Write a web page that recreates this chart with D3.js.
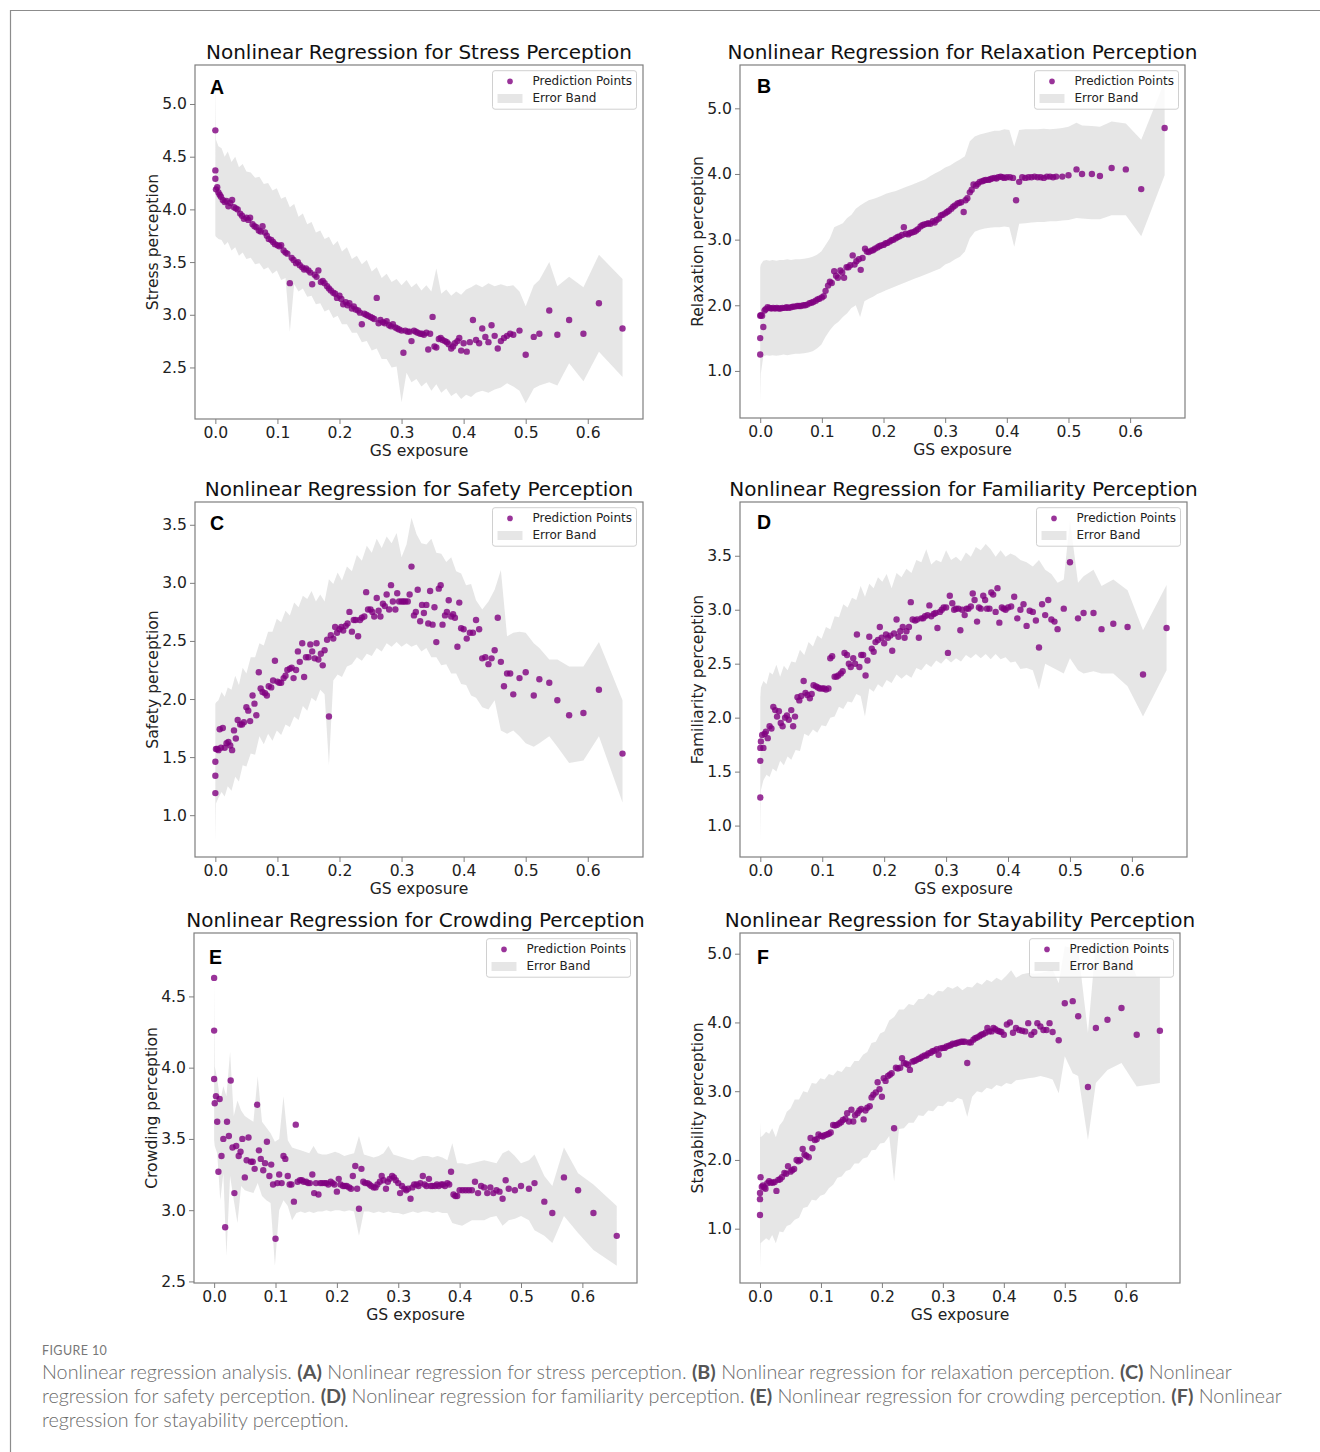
<!DOCTYPE html>
<html>
<head>
<meta charset="utf-8">
<script src="https://cdn.jsdelivr.net/npm/d3@7"></script>
<style>
  body { margin: 0; background: #fff; }
  text { white-space: pre; }
</style>
</head>
<body>
<svg id="fig" width="1320" height="1452"></svg>
<script>
// ---- data ----
// GS exposure of every prediction point (same samples in all six panels)
var gsExposure = [
  0, 0, 0, 0.001, 0.003, 0.005, 0.007, 0.009, 0.012, 0.015,
  0.018, 0.021, 0.024, 0.027, 0.030, 0.033, 0.036, 0.040, 0.043, 0.046,
  0.050, 0.053, 0.056, 0.060, 0.063, 0.066, 0.070, 0.073, 0.076, 0.080,
  0.083, 0.086, 0.090, 0.093, 0.096, 0.100, 0.103, 0.106, 0.110, 0.113,
  0.116, 0.120, 0.123, 0.126, 0.130, 0.133, 0.136, 0.140, 0.143, 0.146,
  0.150, 0.153, 0.156, 0.160, 0.163, 0.166, 0.170, 0.173, 0.176, 0.180,
  0.183, 0.186, 0.190, 0.193, 0.196, 0.200, 0.203, 0.206, 0.210, 0.213,
  0.216, 0.220, 0.223, 0.226, 0.230, 0.233, 0.236, 0.240, 0.243, 0.246,
  0.250, 0.253, 0.256, 0.260, 0.263, 0.266, 0.270, 0.273, 0.276, 0.280,
  0.283, 0.286, 0.290, 0.293, 0.296, 0.300, 0.303, 0.306, 0.310, 0.313,
  0.316, 0.320, 0.323, 0.326, 0.330, 0.333, 0.336, 0.340, 0.343, 0.346,
  0.350, 0.353, 0.356, 0.360, 0.363, 0.366, 0.370, 0.373, 0.376, 0.380,
  0.383, 0.386, 0.390, 0.393, 0.396, 0.400, 0.405, 0.410, 0.415, 0.420,
  0.425, 0.430, 0.435, 0.440, 0.445, 0.450, 0.455, 0.460, 0.465, 0.470,
  0.475, 0.480, 0.490, 0.500, 0.513, 0.522, 0.538, 0.551, 0.570, 0.593,
  0.618, 0.656];

// GS exposure where the error band edges are sampled
var bandGs = [
  0, 0.001, 0.005, 0.01, 0.015, 0.02, 0.026, 0.032, 0.038, 0.044,
  0.05, 0.057, 0.064, 0.071, 0.078, 0.085, 0.092, 0.099, 0.106, 0.113,
  0.12, 0.127, 0.134, 0.141, 0.148, 0.155, 0.162, 0.169, 0.176, 0.183,
  0.19, 0.197, 0.204, 0.212, 0.22, 0.228, 0.236, 0.244, 0.252, 0.26,
  0.268, 0.276, 0.284, 0.292, 0.3, 0.308, 0.316, 0.324, 0.332, 0.34,
  0.348, 0.356, 0.364, 0.372, 0.38, 0.388, 0.396, 0.404, 0.412, 0.42,
  0.43, 0.44, 0.45, 0.46, 0.47, 0.48, 0.49, 0.5, 0.513, 0.522,
  0.538, 0.551, 0.57, 0.593, 0.618, 0.656];

// A - stress
var stressPred = [
  4.75, 4.37, 4.29, 4.19, 4.21, 4.16, 4.14, 4.12, 4.09, 4.07,
  4.08, 4.03, 4.06, 4.09, 4.02, 4.01, 4.00, 3.96, 3.94, 3.91,
  3.92, 3.90, 3.92, 3.86, 3.84, 3.83, 3.80, 3.79, 3.84, 3.78,
  3.75, 3.72, 3.71, 3.69, 3.67, 3.66, 3.65, 3.66, 3.61, 3.59,
  3.58, 3.30, 3.54, 3.52, 3.49, 3.50, 3.47, 3.45, 3.43, 3.44,
  3.42, 3.40, 3.29, 3.38, 3.36, 3.42, 3.31, 3.32, 3.30, 3.27,
  3.25, 3.23, 3.21, 3.20, 3.16, 3.18, 3.15, 3.10, 3.12, 3.09,
  3.11, 3.06, 3.08, 3.05, 3.04, 3.02, 2.91, 3.01, 3.00, 2.99,
  2.98, 2.97, 2.96, 3.16, 2.92, 2.95, 2.93, 2.92, 2.94, 2.90,
  2.89, 2.91, 2.88, 2.87, 2.86, 2.85, 2.64, 2.85, 2.84, 2.84,
  2.75, 2.85, 2.84, 2.83, 2.82, 2.82, 2.81, 2.83, 2.67, 2.82,
  2.98, 2.70, 2.69, 2.77, 2.78, 2.76, 2.75, 2.74, 2.72, 2.68,
  2.70, 2.73, 2.75, 2.78, 2.66, 2.73, 2.65, 2.74, 2.95, 2.76,
  2.73, 2.87, 2.79, 2.74, 2.90, 2.80, 2.68, 2.75, 2.78, 2.80,
  2.82, 2.81, 2.85, 2.62, 2.79, 2.82, 3.04, 2.81, 2.95, 2.82,
  3.11, 2.87];
var stressHi = [
  5.22, 4.66, 4.60, 4.58, 4.50, 4.55, 4.45, 4.50, 4.40, 4.43,
  4.36, 4.35, 4.30, 4.31, 4.24, 4.25, 4.18, 4.20, 4.10, 4.12,
  4.02, 4.05, 3.93, 3.96, 3.86, 3.88, 3.78, 3.80, 3.72, 3.74,
  3.66, 3.70, 3.60, 3.64, 3.53, 3.56, 3.48, 3.52, 3.41, 3.45,
  3.35, 3.39, 3.31, 3.34, 3.28, 3.33, 3.26, 3.30, 3.23, 3.28,
  3.22, 3.44, 3.20, 3.24, 3.18, 3.22, 3.19, 3.24, 3.26, 3.29,
  3.26, 3.30, 3.27, 3.29, 3.27, 3.28, 3.22, 3.08, 3.28, 3.33,
  3.50, 3.27, 3.36, 3.26, 3.57, 3.34];
var stressLo = [
  3.75, 3.74, 3.72, 3.71, 3.66, 3.69, 3.61, 3.64, 3.56, 3.59,
  3.53, 3.54, 3.48, 3.49, 3.43, 3.45, 3.39, 3.42, 3.33, 3.35,
  2.84, 3.29, 3.22, 3.25, 3.17, 3.18, 3.10, 3.11, 3.03, 3.05,
  2.97, 2.99, 2.91, 2.91, 2.83, 2.83, 2.74, 2.75, 2.66, 2.68,
  2.58, 2.58, 2.50, 2.51, 2.17, 2.45, 2.36, 2.39, 2.32, 2.36,
  2.28, 2.34, 2.26, 2.30, 2.23, 2.26, 2.20, 2.24, 2.22, 2.26,
  2.28, 2.26, 2.29, 2.31, 2.35, 2.32, 2.28, 2.16, 2.30, 2.33,
  2.36, 2.33, 2.54, 2.37, 2.65, 2.41];

// B - relaxation
var relaxPred = [
  1.25, 1.50, 1.84, 1.85, 1.84, 1.67, 1.92, 1.94, 1.97, 1.96,
  1.95, 1.96, 1.95, 1.96, 1.95, 1.95, 1.96, 1.96, 1.97, 1.96,
  1.97, 1.98, 1.98, 1.99, 1.99, 1.99, 2.00, 2.00, 2.01, 2.03,
  2.04, 2.05, 2.07, 2.09, 2.10, 2.12, 2.14, 2.22, 2.30, 2.36,
  2.34, 2.52, 2.45, 2.42, 2.53, 2.50, 2.42, 2.58, 2.58, 2.61,
  2.76, 2.62, 2.67, 2.70, 2.54, 2.72, 2.86, 2.82, 2.81, 2.83,
  2.84, 2.86, 2.88, 2.90, 2.91, 2.92, 2.94, 2.95, 2.97, 2.99,
  3.00, 3.02, 3.04, 3.05, 3.07, 3.19, 3.09, 3.08, 3.10, 3.11,
  3.12, 3.14, 3.16, 3.20, 3.22, 3.23, 3.24, 3.25, 3.24, 3.28,
  3.26, 3.30, 3.32, 3.37, 3.38, 3.40, 3.42, 3.44, 3.47, 3.50,
  3.52, 3.55, 3.56, 3.57, 3.42, 3.60, 3.63, 3.72, 3.76, 3.84,
  3.82, 3.85, 3.88, 3.89, 3.90, 3.91, 3.91, 3.92, 3.93, 3.94,
  3.93, 3.95, 3.96, 3.95, 3.94, 3.95, 3.95, 3.94, 3.60, 3.88,
  3.95, 3.94, 3.95, 3.95, 3.96, 3.95, 3.95, 3.94, 3.96, 3.96,
  3.95, 3.96, 3.96, 3.98, 4.07, 4.00, 4.00, 3.97, 4.09, 4.07,
  3.77, 4.70];
var relaxHi = [
  2.58, 2.62, 2.68, 2.69, 2.68, 2.69, 2.68, 2.69, 2.69, 2.70,
  2.69, 2.70, 2.70, 2.71, 2.72, 2.74, 2.77, 2.82, 2.92, 3.02,
  3.19, 3.22, 3.25, 3.33, 3.38, 3.47, 3.52, 3.56, 3.60, 3.62,
  3.64, 3.67, 3.70, 3.72, 3.74, 3.77, 3.80, 3.83, 3.86, 3.89,
  3.92, 3.97, 4.01, 4.05, 4.10, 4.13, 4.18, 4.22, 4.27, 4.50,
  4.57, 4.60, 4.62, 4.64, 4.66, 4.66, 4.68, 4.67, 4.42, 4.67,
  4.68, 4.68, 4.68, 4.69, 4.68, 4.69, 4.70, 4.72, 4.78, 4.74,
  4.73, 4.72, 4.80, 4.77, 4.52, 5.41];
var relaxLo = [
  0.53, 0.96, 1.22, 1.24, 1.23, 1.24, 1.23, 1.24, 1.25, 1.24,
  1.25, 1.26, 1.26, 1.27, 1.28, 1.30, 1.34, 1.40, 1.52, 1.62,
  1.70, 1.75, 1.82, 1.88, 1.96, 2.00, 1.82, 2.06, 2.10, 2.13,
  2.17, 2.20, 2.23, 2.26, 2.29, 2.32, 2.35, 2.38, 2.41, 2.44,
  2.47, 2.50, 2.53, 2.56, 2.62, 2.65, 2.70, 2.74, 2.82, 3.02,
  3.12, 3.15, 3.17, 3.18, 3.19, 3.19, 3.20, 3.19, 2.89, 3.24,
  3.25, 3.26, 3.27, 3.27, 3.28, 3.28, 3.29, 3.30, 3.33, 3.32,
  3.31, 3.31, 3.37, 3.37, 3.05, 3.98];

// C - safety
var safetyPred = [
  1.19, 1.34, 1.46, 1.57, 1.57, 1.56, 1.74, 1.58, 1.75, 1.58,
  1.62, 1.63, 1.60, 1.56, 1.73, 1.66, 1.82, 1.78, 1.78, 1.80,
  1.93, 1.90, 1.81, 2.03, 1.96, 1.86, 2.23, 2.09, 2.06, 2.05,
  2.03, 2.11, 2.10, 2.16, 2.33, 2.15, 2.14, 2.14, 2.18, 2.20,
  2.25, 2.26, 2.27, 2.18, 2.25, 2.41, 2.32, 2.48, 2.19, 2.36,
  2.36, 2.47, 2.41, 2.35, 2.48, 2.34, 2.39, 2.29, 2.42, 2.51,
  1.85, 2.55, 2.52, 2.62, 2.57, 2.60, 2.62, 2.59, 2.63, 2.65,
  2.75, 2.58, 2.68, 2.68, 2.54, 2.68, 2.70, 2.71, 2.92, 2.77,
  2.77, 2.75, 2.71, 2.87, 2.76, 2.71, 2.82, 2.80, 2.90, 2.77,
  2.98, 2.84, 2.77, 2.91, 2.84, 2.84, 2.84, 2.84, 2.84, 2.90,
  3.14, 2.72, 2.75, 2.94, 2.67, 2.81, 2.74, 2.81, 2.65, 2.93,
  2.64, 2.79, 2.49, 2.95, 2.98, 2.64, 2.72, 2.75, 2.85, 2.71,
  2.73, 2.70, 2.45, 2.83, 2.61, 2.60, 2.52, 2.57, 2.57, 2.68,
  2.60, 2.35, 2.36, 2.30, 2.35, 2.42, 2.70, 2.32, 2.11, 2.22,
  2.22, 2.04, 2.18, 2.23, 2.03, 2.17, 2.14, 1.99, 1.86, 1.88,
  2.08, 1.53];
var safetyHi = [
  1.96, 1.97, 1.99, 2.06, 2.02, 2.10, 2.08, 2.20, 2.12, 2.27,
  2.22, 2.36, 2.36, 2.48, 2.46, 2.58, 2.58, 2.69, 2.66, 2.76,
  2.72, 2.83, 2.79, 2.89, 2.86, 2.93, 2.84, 2.90, 2.84, 3.03,
  2.99, 3.09, 3.02, 3.14, 3.10, 3.24, 3.19, 3.32, 3.26, 3.38,
  3.30, 3.40, 3.34, 3.43, 3.22, 3.33, 3.56, 3.42, 3.34, 3.33,
  3.38, 3.26, 3.25, 3.18, 3.22, 3.10, 3.08, 2.98, 2.99, 2.85,
  2.77, 2.84, 2.94, 3.11, 2.54, 2.57, 2.58, 2.57, 2.48, 2.44,
  2.34, 2.34, 2.28, 2.28, 2.49, 1.99];
var safetyLo = [
  0.77, 1.10, 1.15, 1.20, 1.16, 1.25, 1.21, 1.33, 1.29, 1.43,
  1.42, 1.53, 1.52, 1.68, 1.61, 1.70, 1.64, 1.73, 1.69, 1.78,
  1.76, 1.85, 1.82, 1.94, 1.90, 2.01, 1.98, 2.08, 2.04, 1.43,
  2.16, 2.21, 2.19, 2.28, 2.30, 2.36, 2.33, 2.39, 2.37, 2.44,
  2.41, 2.48, 2.45, 2.49, 2.45, 2.48, 2.45, 2.47, 2.41, 2.44,
  2.36, 2.36, 2.29, 2.30, 2.22, 2.22, 2.13, 2.12, 2.03, 2.01,
  1.93, 1.91, 1.99, 1.73, 1.70, 1.73, 1.68, 1.62, 1.59, 1.62,
  1.68, 1.59, 1.45, 1.47, 1.68, 1.11];

// D - familiarity
var familiarPred = [
  1.26, 1.60, 1.72, 1.78, 1.84, 1.72, 1.85, 1.87, 1.81, 1.92,
  1.90, 2.10, 2.07, 2.01, 2.06, 1.95, 1.92, 2.00, 2.02, 1.98,
  2.07, 1.92, 2.01, 2.19, 2.16, 2.20, 2.34, 2.23, 2.21, 2.18,
  2.22, 2.30, 2.29, 2.28, 2.27, 2.27, 2.27, 2.26, 2.27, 2.55,
  2.57, 2.38, 2.38, 2.39, 2.41, 2.43, 2.60, 2.58, 2.50, 2.47,
  2.55, 2.50, 2.77, 2.47, 2.58, 2.58, 2.39, 2.53, 2.75, 2.64,
  2.61, 2.70, 2.72, 2.84, 2.74, 2.69, 2.77, 2.74, 2.76, 2.62,
  2.78, 2.91, 2.75, 2.80, 2.84, 2.74, 2.80, 2.84, 3.07, 2.91,
  2.90, 2.91, 2.74, 2.92, 2.92, 2.94, 2.95, 3.04, 2.94, 2.96,
  2.97, 2.83, 2.98, 3.00, 3.02, 3.02, 2.60, 3.13, 3.06, 3.00,
  3.01, 3.01, 2.81, 3.00, 2.95, 3.01, 3.01, 3.03, 3.15, 3.09,
  2.89, 3.02, 3.01, 3.13, 3.09, 3.01, 3.01, 3.16, 3.14, 2.98,
  3.20, 2.88, 3.02, 3.01, 3.00, 3.02, 3.03, 3.12, 2.92, 3.00,
  3.05, 2.85, 2.99, 2.98, 2.90, 2.65, 3.05, 2.95, 3.09, 2.91,
  2.89, 2.82, 3.01, 3.44, 2.92, 2.97, 2.97, 2.82, 2.87, 2.84,
  2.40, 2.83];
var familiarHi = [
  2.19, 2.28, 2.34, 2.31, 2.42, 2.40, 2.49, 2.38, 2.48, 2.44,
  2.52, 2.51, 2.63, 2.58, 2.70, 2.66, 2.76, 2.73, 2.84, 2.82,
  2.94, 2.93, 3.05, 3.02, 3.11, 3.09, 3.22, 3.12, 3.24, 3.20,
  3.30, 3.26, 3.33, 3.20, 3.34, 3.30, 3.38, 3.34, 3.46, 3.44,
  3.56, 3.42, 3.46, 3.44, 3.55, 3.46, 3.49, 3.45, 3.53, 3.49,
  3.58, 3.55, 3.61, 3.56, 3.49, 3.55, 3.49, 3.52, 3.50, 3.46,
  3.44, 3.40, 3.46, 3.37, 3.33, 3.25, 3.28, 3.83, 3.25, 3.31,
  3.37, 3.22, 3.28, 3.18, 2.81, 3.23];
var familiarLo = [
  0.86, 1.33, 1.42, 1.47, 1.45, 1.53, 1.50, 1.60, 1.56, 1.64,
  1.61, 1.70, 1.69, 1.85, 1.83, 1.89, 1.86, 1.93, 1.92, 2.00,
  2.01, 2.10, 2.08, 2.15, 2.14, 2.22, 2.20, 2.01, 2.27, 2.24,
  2.31, 2.28, 2.35, 2.32, 2.40, 2.36, 2.40, 2.37, 2.46, 2.44,
  2.50, 2.47, 2.53, 2.50, 2.55, 2.51, 2.55, 2.52, 2.58, 2.55,
  2.59, 2.55, 2.59, 2.54, 2.59, 2.54, 2.56, 2.51, 2.52, 2.45,
  2.46, 2.44, 2.26, 2.50, 2.47, 2.44, 2.41, 2.55, 2.44, 2.41,
  2.43, 2.41, 2.41, 2.29, 2.01, 2.44];

// E - crowding
var crowdPred = [
  4.63, 4.26, 3.92, 3.75, 3.80, 3.62, 3.27, 3.78, 3.38, 3.50,
  2.88, 3.62, 3.52, 3.91, 3.44, 3.12, 3.45, 3.38, 3.41, 3.50,
  3.23, 3.35, 3.51, 3.34, 3.34, 3.29, 3.74, 3.42, 3.36, 3.28,
  3.33, 3.48, 3.24, 3.32, 3.18, 2.80, 3.19, 3.25, 3.19, 3.38,
  3.36, 3.24, 3.18, 3.18, 3.06, 3.60, 3.20, 3.21, 3.21, 3.20,
  3.20, 3.19, 3.19, 3.25, 3.12, 3.19, 3.11, 3.19, 3.19, 3.19,
  3.19, 3.18, 3.20, 3.19, 3.18, 3.13, 3.22, 3.18, 3.17, 3.17,
  3.17, 3.16, 3.15, 3.24, 3.31, 3.15, 3.01, 3.29, 3.20, 3.19,
  3.19, 3.18, 3.17, 3.16, 3.16, 3.18, 3.20, 3.24, 3.21, 3.15,
  3.20, 3.22, 3.24, 3.23, 3.21, 3.19, 3.12, 3.17, 3.15, 3.14,
  3.15, 3.08, 3.16, 3.18, 3.18, 3.17, 3.19, 3.24, 3.18, 3.17,
  3.22, 3.17, 3.17, 3.17, 3.18, 3.17, 3.18, 3.18, 3.17, 3.19,
  3.18, 3.27, 3.11, 3.10, 3.10, 3.14, 3.14, 3.14, 3.14, 3.14,
  3.20, 3.12, 3.17, 3.16, 3.12, 3.16, 3.12, 3.14, 3.13, 3.08,
  3.21, 3.15, 3.14, 3.17, 3.15, 3.19, 3.06, 2.98, 3.23, 3.14,
  2.98, 2.82];
var crowdHi = [
  4.62, 4.01, 3.92, 3.77, 3.87, 3.80, 4.11, 3.66, 3.77, 3.70,
  3.66, 3.64, 3.62, 3.94, 3.62, 3.58, 3.54, 3.48, 3.50, 3.80,
  3.49, 3.44, 3.43, 3.42, 3.41, 3.40, 3.45, 3.40, 3.39, 3.39,
  3.40, 3.41, 3.40, 3.38, 3.39, 3.40, 3.52, 3.39, 3.38, 3.37,
  3.38, 3.40, 3.45, 3.39, 3.38, 3.37, 3.36, 3.35, 3.37, 3.38,
  3.38, 3.37, 3.38, 3.37, 3.35, 3.47, 3.33, 3.33, 3.32, 3.33,
  3.34, 3.35, 3.34, 3.33, 3.40, 3.42, 3.38, 3.33, 3.35, 3.39,
  3.24, 3.17, 3.44, 3.26, 3.18, 3.03];
var crowdLo = [
  3.49, 3.45, 3.40, 3.07, 3.26, 2.68, 3.24, 3.07, 2.91, 3.17,
  3.14, 3.13, 3.12, 3.19, 3.10, 3.07, 3.05, 2.61, 3.00, 3.07,
  3.03, 2.93, 2.98, 2.99, 2.98, 2.99, 2.98, 2.99, 2.99, 3.00,
  2.99, 3.00, 3.00, 2.99, 3.00, 2.99, 2.82, 2.99, 2.99, 2.98,
  2.99, 2.98, 2.99, 2.98, 2.98, 2.97, 2.98, 2.99, 2.98, 2.99,
  2.99, 2.98, 2.99, 2.98, 2.98, 2.91, 2.90, 2.89, 2.91, 2.93,
  2.93, 2.93, 2.95, 2.96, 2.89, 2.93, 2.94, 2.96, 2.93, 2.86,
  2.82, 2.77, 2.96, 2.84, 2.72, 2.61];

// F - stayability
var stayPred = [
  1.20, 1.43, 1.52, 1.75, 1.61, 1.63, 1.60, 1.58, 1.66, 1.69,
  1.67, 1.67, 1.68, 1.55, 1.71, 1.72, 1.75, 1.81, 1.80, 1.91,
  1.83, 1.85, 1.87, 2.00, 1.98, 2.00, 2.16, 2.08, 2.06, 2.04,
  2.32, 2.17, 2.29, 2.30, 2.37, 2.35, 2.34, 2.36, 2.37, 2.38,
  2.40, 2.51, 2.50, 2.51, 2.53, 2.55, 2.58, 2.60, 2.68, 2.56,
  2.73, 2.56, 2.65, 2.68, 2.72, 2.74, 2.59, 2.72, 2.76, 2.78,
  2.91, 2.95, 2.98, 3.13, 3.03, 2.92, 3.19, 3.15, 3.22, 3.24,
  3.26, 2.46, 3.34, 3.33, 3.34, 3.48, 3.41, 3.40, 3.38, 3.31,
  3.43, 3.44, 3.45, 3.47, 3.48, 3.50, 3.52, 3.52, 3.55, 3.56,
  3.58, 3.59, 3.61, 3.53, 3.62, 3.63, 3.63, 3.65, 3.66, 3.67,
  3.69, 3.69, 3.70, 3.71, 3.72, 3.72, 3.72, 3.41, 3.71, 3.71,
  3.75, 3.77, 3.78, 3.80, 3.82, 3.83, 3.85, 3.92, 3.87, 3.87,
  3.92, 3.90, 3.88, 3.87, 3.86, 3.82, 3.97, 4.00, 3.85, 3.92,
  3.89, 3.88, 3.87, 3.99, 3.82, 3.86, 3.99, 3.94, 3.89, 3.89,
  3.99, 3.86, 3.74, 4.28, 4.31, 4.09, 3.06, 3.92, 4.04, 4.21,
  3.82, 3.88];
var stayHi = [
  2.54, 2.33, 2.36, 2.41, 2.38, 2.46, 2.33, 2.50, 2.57, 2.70,
  2.75, 2.88, 2.88, 3.00, 2.98, 3.12, 3.11, 3.19, 3.17, 3.25,
  3.23, 3.30, 3.28, 3.36, 3.35, 3.44, 3.44, 3.53, 3.57, 3.70,
  3.72, 3.84, 3.87, 4.03, 4.08, 4.19, 4.19, 4.27, 4.25, 4.34,
  4.34, 4.42, 4.39, 4.46, 4.45, 4.52, 4.49, 4.53, 4.47, 4.52,
  4.51, 4.58, 4.55, 4.62, 4.59, 4.65, 4.61, 4.68, 4.76, 4.65,
  4.70, 4.72, 4.71, 4.72, 4.74, 4.77, 4.57, 5.11, 5.08, 5.06,
  3.85, 5.16, 5.11, 5.20, 4.67, 4.67];
var stayLo = [
  0.43, 0.79, 0.82, 0.86, 0.83, 0.91, 0.79, 0.96, 0.95, 1.04,
  1.06, 1.13, 1.16, 1.30, 1.32, 1.42, 1.41, 1.48, 1.50, 1.59,
  1.64, 1.74, 1.76, 1.84, 1.86, 1.95, 1.95, 2.02, 2.04, 2.14,
  2.15, 2.24, 2.25, 2.35, 1.69, 2.45, 2.46, 2.54, 2.54, 2.65,
  2.64, 2.72, 2.71, 2.79, 2.78, 2.85, 2.84, 2.90, 2.88, 2.63,
  2.92, 3.00, 2.98, 3.05, 3.03, 3.09, 3.07, 3.12, 3.10, 3.16,
  3.17, 3.19, 3.20, 3.22, 3.20, 3.17, 2.97, 3.51, 3.26, 3.22,
  2.29, 3.12, 3.31, 3.41, 3.07, 3.12];

// tick labels
var gsTicks = [0, 0.1, 0.2, 0.3, 0.4, 0.5, 0.6];
var stressTicks = [2.5, 3.0, 3.5, 4.0, 4.5, 5.0];
var relaxTicks = [1, 2, 3, 4, 5];
var safetyTicks = [1.0, 1.5, 2.0, 2.5, 3.0, 3.5];
var familiarTicks = [1.0, 1.5, 2.0, 2.5, 3.0, 3.5];
var crowdTicks = [2.5, 3.0, 3.5, 4.0, 4.5];
var stayTicks = [1, 2, 3, 4, 5];

var panelLetters = ["A", "B", "C", "D", "E", "F"];
var panelTitles = [
  "Nonlinear Regression for Stress Perception",
  "Nonlinear Regression for Relaxation Perception",
  "Nonlinear Regression for Safety Perception",
  "Nonlinear Regression for Familiarity Perception",
  "Nonlinear Regression for Crowding Perception",
  "Nonlinear Regression for Stayability Perception"];
var yLabels = ["Stress perception", "Relaxation perception", "Safety perception",
  "Familiarity perception", "Crowding perception", "Stayability perception"];

// ---- layout (pixel boxes of each axes, y range shown) ----
var layout = [
  {left: 195, right: 643, top: 65, bottom: 419, yDomain: [2.011, 5.370], letterDx: 15, letterDy: 29},
  {left: 740, right: 1185, top: 65, bottom: 418, yDomain: [0.283, 5.660], letterDx: 17, letterDy: 28},
  {left: 195, right: 643, top: 502, bottom: 857, yDomain: [0.640, 3.696], letterDx: 15, letterDy: 28},
  {left: 740, right: 1187, top: 502, bottom: 857, yDomain: [0.709, 3.998], letterDx: 17, letterDy: 27},
  {left: 194, right: 637, top: 933, bottom: 1283, yDomain: [2.489, 4.945], letterDx: 15, letterDy: 31},
  {left: 740, right: 1180, top: 933, bottom: 1283, yDomain: [0.210, 5.301], letterDx: 17, letterDy: 31}
];
var xDomain = [-0.0328, 0.689];

var preds = [stressPred, relaxPred, safetyPred, familiarPred, crowdPred, stayPred];
var his = [stressHi, relaxHi, safetyHi, familiarHi, crowdHi, stayHi];
var los = [stressLo, relaxLo, safetyLo, familiarLo, crowdLo, stayLo];
var yTickSets = [stressTicks, relaxTicks, safetyTicks, familiarTicks, crowdTicks, stayTicks];

var FONT = "DejaVu Sans";
var svg = d3.select("#fig");

// outer frame of the figure
svg.append("path")
  .attr("d", "M10.5,1452V10.5H1320")
  .attr("fill", "none")
  .attr("stroke", "#8c8c8c")
  .attr("stroke-width", 1.2);

panelLetters.forEach(function(letter, k) {
  var L = layout[k];
  var x = d3.scaleLinear().domain(xDomain).range([L.left, L.right]);
  var y = d3.scaleLinear().domain(L.yDomain).range([L.bottom, L.top]);
  var g = svg.append("g");

  svg.append("clipPath").attr("id", "clip" + k)
    .append("rect")
    .attr("x", L.left).attr("y", L.top)
    .attr("width", L.right - L.left).attr("height", L.bottom - L.top);

  // error band
  var bandData = bandGs.map(function(v, i) { return {x: v, lo: los[k][i], hi: his[k][i]}; });
  var area = d3.area()
    .x(function(d) { return x(d.x); })
    .y0(function(d) { return y(d.lo); })
    .y1(function(d) { return y(d.hi); });
  g.append("path")
    .datum(bandData)
    .attr("d", area)
    .attr("fill", "gray")
    .attr("fill-opacity", 0.2)
    .attr("clip-path", "url(#clip" + k + ")");

  // prediction points
  var pts = gsExposure.map(function(v, i) { return {x: v, y: preds[k][i]}; });
  g.append("g").selectAll("circle")
    .data(pts)
    .enter().append("circle")
    .attr("cx", function(d) { return x(d.x); })
    .attr("cy", function(d) { return y(d.y); })
    .attr("r", 3.2)
    .attr("fill", "purple")
    .attr("fill-opacity", 0.8);

  // axes
  var xAxis = g.append("g")
    .attr("transform", "translate(0," + L.bottom + ")")
    .call(d3.axisBottom(x).tickValues(gsTicks).tickFormat(d3.format(".1f")).tickSize(5).tickPadding(3));
  var yAxis = g.append("g")
    .attr("transform", "translate(" + L.left + ",0)")
    .call(d3.axisLeft(y).tickValues(yTickSets[k]).tickFormat(d3.format(".1f")).tickSize(5).tickPadding(3));
  [xAxis, yAxis].forEach(function(a) {
    a.select(".domain").remove();
    a.selectAll("line").attr("stroke", "#7f7f7f").attr("stroke-width", 1);
    a.selectAll("text")
      .attr("fill", "#222")
      .style("font-family", FONT)
      .style("font-size", "15.6px");
  });

  // axes frame
  g.append("rect")
    .attr("x", L.left).attr("y", L.top)
    .attr("width", L.right - L.left).attr("height", L.bottom - L.top)
    .attr("fill", "none")
    .attr("stroke", "#7f7f7f")
    .attr("stroke-width", 1.2);

  // title and axis labels
  g.append("text")
    .attr("x", (L.left + L.right) / 2).attr("y", L.top - 6)
    .attr("text-anchor", "middle")
    .style("font-family", FONT).style("font-size", "20px")
    .attr("fill", "#111")
    .text(panelTitles[k]);
  g.append("text")
    .attr("x", (L.left + L.right) / 2).attr("y", L.bottom + 37)
    .attr("text-anchor", "middle")
    .style("font-family", FONT).style("font-size", "15.6px")
    .attr("fill", "#222")
    .text("GS exposure");
  g.append("text")
    .attr("transform", "translate(" + (L.left - 37) + "," + ((L.top + L.bottom) / 2) + ") rotate(-90)")
    .attr("text-anchor", "middle")
    .style("font-family", FONT).style("font-size", "15.6px")
    .attr("fill", "#222")
    .text(yLabels[k]);

  // panel letter
  g.append("text")
    .attr("x", L.left + L.letterDx).attr("y", L.top + L.letterDy)
    .style("font-family", "Liberation Sans, Arial, sans-serif")
    .style("font-size", "19.5px").style("font-weight", "bold")
    .attr("fill", "#000")
    .text(letter);

  // legend
  var legendW = 144, legendH = 38.5;
  var lg = g.append("g")
    .attr("transform", "translate(" + (L.right - 6.5 - legendW) + "," + (L.top + 5.7) + ")");
  lg.append("rect")
    .attr("width", legendW).attr("height", legendH).attr("rx", 2.5)
    .attr("fill", "white").attr("fill-opacity", 0.8)
    .attr("stroke", "#d0d0d0").attr("stroke-width", 1);
  lg.append("circle")
    .attr("cx", 17.5).attr("cy", 10.7).attr("r", 2.8)
    .attr("fill", "purple").attr("fill-opacity", 0.8);
  lg.append("rect")
    .attr("x", 5).attr("y", 23.3).attr("width", 25).attr("height", 9)
    .attr("fill", "gray").attr("fill-opacity", 0.2);
  lg.selectAll("text.lab")
    .data(["Prediction Points", "Error Band"])
    .enter().append("text")
    .attr("class", "lab")
    .attr("x", 40)
    .attr("y", function(d, i) { return 14.8 + i * 17; })
    .style("font-family", FONT).style("font-size", "12px")
    .attr("fill", "#222")
    .text(function(d) { return d; });
});

// ---- caption ----
svg.append("text")
  .attr("x", 42).attr("y", 1355)
  .style("font-family", "Lato, sans-serif").style("font-size", "12.5px")
  .style("letter-spacing", "0.4px")
  .attr("fill", "#777")
  .text("FIGURE 10");

var captionLines = [
  [["Nonlinear regression analysis. ", 0], ["(A)", 1], [" Nonlinear regression for stress perception. ", 0],
   ["(B)", 1], [" Nonlinear regression for relaxation perception. ", 0], ["(C)", 1], [" Nonlinear", 0]],
  [["regression for safety perception. ", 0], ["(D)", 1], [" Nonlinear regression for familiarity perception. ", 0],
   ["(E)", 1], [" Nonlinear regression for crowding perception. ", 0], ["(F)", 1], [" Nonlinear", 0]],
  [["regression for stayability perception.", 0]]
];
var capTexts = captionLines.map(function(line, i) {
  var t = svg.append("text")
    .attr("x", 42).attr("y", 1379 + i * 24)
    .style("font-family", "Lato, sans-serif").style("font-size", "17px")
    .style("font-weight", "300")
    .attr("fill", "#6b6b6b");
  line.forEach(function(seg) {
    t.append("tspan")
      .style("font-weight", seg[1] ? "bold" : "300")
      .attr("fill", seg[1] ? "#555" : "#6b6b6b")
      .text(seg[0]);
  });
  return t;
});
// scale caption so the second line spans the same width as in the figure
var w2 = capTexts[1].node().getComputedTextLength();
var capSize = 17 * 1241 / w2;
capTexts.forEach(function(t) { t.style("font-size", capSize + "px"); });
</script>
</body>
</html>
